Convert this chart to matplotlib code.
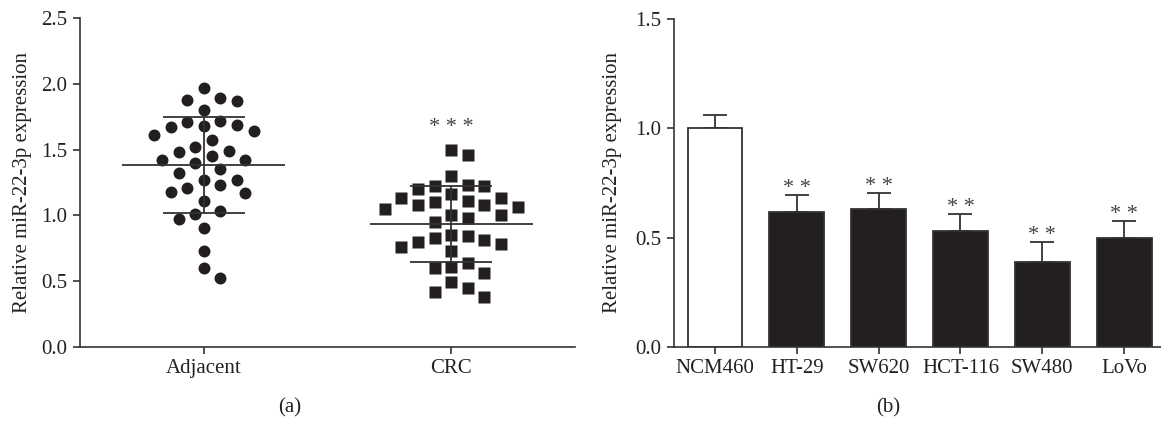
import numpy as np
import matplotlib.pyplot as plt

plt.rcParams['font.family'] = ['Liberation Serif', 'DejaVu Serif']

# (a) miR-22-3p in tissue samples
groups = ['Adjacent', 'CRC']
adjacent = [1.97, 1.88, 1.87, 1.89, 1.80, 1.71, 1.68, 1.64, 1.61, 1.67, 1.69, 1.72,
            1.57, 1.49, 1.45, 1.48, 1.52, 1.42, 1.40, 1.42, 1.35, 1.32, 1.27, 1.21,
            1.17, 1.11, 1.18, 1.23, 1.27, 1.01, 1.03, 0.97, 0.90, 0.73, 0.60, 0.52]
crc = [1.46, 1.50, 1.30, 1.22, 1.22, 1.23, 1.20, 1.16, 1.13, 1.10, 1.06, 1.08,
       1.08, 1.11, 1.13, 1.05, 1.00, 0.98, 1.00, 0.95, 0.84, 0.81, 0.78, 0.73,
       0.76, 0.80, 0.83, 0.85, 0.64, 0.60, 0.56, 0.61, 0.45, 0.38, 0.42, 0.49]
sig_a = ['', '* * *']

# (b) cell lines
cell_lines = ['NCM460', 'HT-29', 'SW620', 'HCT-116', 'SW480', 'LoVo']
expr_mean = [1.00, 0.617, 0.632, 0.530, 0.386, 0.498]
expr_sd = [0.061, 0.078, 0.073, 0.078, 0.095, 0.079]
sig_b = ['', '* *', '* *', '* *', '* *', '* *']

W, H = 1161, 423
fig = plt.figure(figsize=(W / 100, H / 100), dpi=100)
ax1 = fig.add_axes([80 / W, 1 - 346.7 / H, 495 / W, 328.4 / H])
ax2 = fig.add_axes([674 / W, 1 - 346.7 / H, 487 / W, 327.5 / H])

line_col = '#333333'
fs = 15

for ax in (ax1, ax2):
    for s in ('top', 'right'):
        ax.spines[s].set_visible(False)
    for s in ('left', 'bottom'):
        ax.spines[s].set_color(line_col)
        ax.spines[s].set_linewidth(1.2)
    ax.tick_params(direction='out', length=5, width=1.2, color=line_col,
                   labelsize=fs, labelcolor='#222222', pad=4)
    ax.set_ylabel('Relative miR-22-3p expression', fontsize=fs, color='#222222')

# ---- panel (a)
ax1.set_xlim(-0.5, 1.5)
ax1.set_ylim(0, 2.5)
ax1.set_yticks(np.arange(0, 2.51, 0.5))
ax1.yaxis.set_major_formatter(plt.FormatStrFormatter('%.1f'))
ax1.set_xticks(range(len(groups)))
ax1.set_xticklabels(groups)
ax1.yaxis.set_label_coords(-48 / 495, 0.5)


def swarm(ax, values, diam_px, slot_px):
    # simple greedy beeswarm in pixel space
    vals = np.asarray(values)
    px_y = ax.transData.transform([(0, 0), (0, 1)])
    px_x = ax.transData.transform([(0, 0), (1, 0)])
    sy = px_y[1, 1] - px_y[0, 1]
    sx = px_x[1, 0] - px_x[0, 0]
    placed = []
    offs = np.zeros(len(vals))
    order = [0]
    for k in range(1, 20):
        order += [k, -k]
    for i in np.argsort(-vals):
        y = vals[i] * sy
        for k in order:
            x = k * slot_px
            if all((x - px) ** 2 + (y - py) ** 2 >= diam_px ** 2 for px, py in placed):
                break
        placed.append((x, y))
        offs[i] = x / sx
    return offs


markers = ['o', 's']
msizes = [8.6, 9.3]
for i, vals in enumerate([adjacent, crc]):
    offs = swarm(ax1, vals, 15.5, 8.3)
    ax1.plot(i + offs, vals, linestyle='none', marker=markers[i], ms=msizes[i],
             color='#231f20', mec='none', zorder=2)
    m = np.mean(vals)
    sd = np.std(vals, ddof=1)
    ax1.hlines(m, i - 0.33, i + 0.33, color=line_col, lw=1.3, zorder=3)
    ax1.vlines(i, m - sd, m + sd, color=line_col, lw=1.3, zorder=3)
    ax1.hlines([m - sd, m + sd], i - 0.165, i + 0.165, color=line_col, lw=1.3, zorder=3)
    if sig_a[i]:
        ax1.annotate(sig_a[i], (i, max(vals)), xytext=(0, 9), textcoords='offset points',
                     ha='center', va='bottom', fontsize=16, color='#444444')

# ---- panel (b)
x = np.arange(len(cell_lines))
colors = ['white'] + ['#231f20'] * (len(cell_lines) - 1)
ax2.bar(x, expr_mean, width=0.67, color=colors, edgecolor=line_col, linewidth=1.3,
        zorder=2)
ax2.errorbar(x, expr_mean, yerr=[np.zeros(len(x)), expr_sd], fmt='none',
             ecolor=line_col, elinewidth=1.3, capsize=8.5, capthick=1.3, zorder=1)
for i in x:
    if sig_b[i]:
        ax2.annotate(sig_b[i], (i, expr_mean[i] + expr_sd[i]), xytext=(0, -2.5),
                     textcoords='offset points', ha='center', va='bottom',
                     fontsize=16, color='#444444')
ax2.set_xlim(-0.5, 5.45)
ax2.set_ylim(0, 1.5)
ax2.set_yticks(np.arange(0, 1.51, 0.5))
ax2.yaxis.set_major_formatter(plt.FormatStrFormatter('%.1f'))
ax2.set_xticks(x)
ax2.set_xticklabels(cell_lines)
ax2.yaxis.set_label_coords(-52 / 487, 0.5)

fig.text(290 / W, 1 - 408 / H, '(a)', ha='center', va='center', fontsize=fs, color='#222222')
fig.text(888 / W, 1 - 408 / H, '(b)', ha='center', va='center', fontsize=fs, color='#222222')

fig.savefig('out.png', dpi=100)
